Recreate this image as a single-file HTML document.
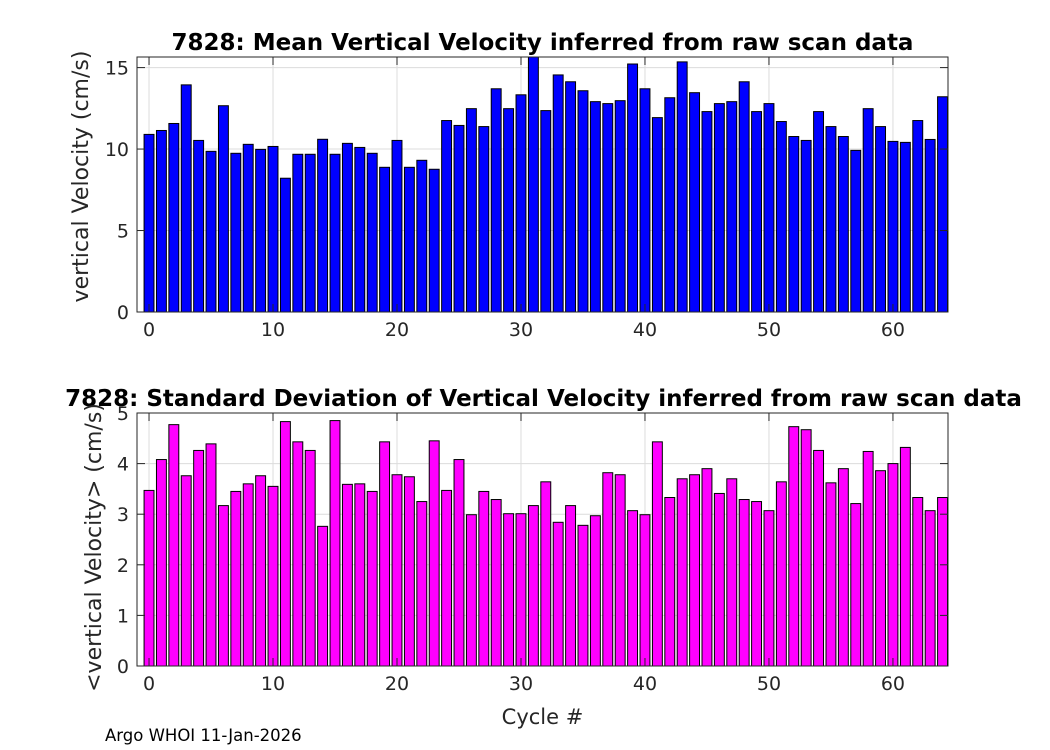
<!DOCTYPE html>
<html><head><meta charset="utf-8"><style>
body{margin:0;background:#fff;}
svg{display:block;font-family:"DejaVu Sans","Liberation Sans",sans-serif;}
</style></head><body>
<svg id="c" width="1050" height="750"></svg>
<script>
const cycles = Array.from({length:65},(_, i)=>i);
const meanVel = [10.9,11.14,11.57,13.94,10.53,9.86,12.66,9.74,10.29,9.98,10.16,8.21,9.68,9.68,10.6,9.68,10.35,10.1,9.74,8.88,10.53,8.88,9.31,8.76,11.75,11.45,12.48,11.38,13.7,12.48,13.33,15.65,12.36,14.55,14.13,13.58,12.91,12.79,12.97,15.22,13.7,11.93,13.15,15.35,13.46,12.3,12.79,12.91,14.13,12.3,12.79,11.69,10.77,10.53,12.3,11.38,10.77,9.92,12.48,11.38,10.47,10.41,11.75,10.59,13.21];
const stdVel = [3.47,4.08,4.77,3.76,4.26,4.39,3.17,3.45,3.6,3.76,3.55,4.83,4.43,4.26,2.76,4.85,3.59,3.6,3.45,4.43,3.78,3.74,3.25,4.45,3.47,4.08,2.99,3.45,3.29,3.01,3.01,3.17,3.64,2.84,3.17,2.78,2.97,3.82,3.78,3.07,2.99,4.43,3.33,3.7,3.78,3.9,3.41,3.7,3.29,3.25,3.07,3.64,4.73,4.67,4.26,3.62,3.9,3.21,4.24,3.86,4.0,4.32,3.33,3.07,3.33];
const xTicks = [0,10,20,30,40,50,60];
const yTicksTop = [0,5,10,15];
const yTicksBot = [0,1,2,3,4,5];

const NS="http://www.w3.org/2000/svg";
const svg=document.getElementById('c');
function mk(tag,attrs,parent){const e=document.createElementNS(NS,tag);for(const k in attrs)e.setAttribute(k,attrs[k]);(parent||svg).appendChild(e);return e;}

function panel(name,box,ymax,vals,yticks,color,title,ylabel,ylx,xlabel){
  const g=mk('g',{});
  
  
  const xmin=-0.97,xmax=64.44;
  const X=v=>box.l+(v-xmin)/(xmax-xmin)*(box.r-box.l);
  const Y=v=>box.b-v/ymax*(box.b-box.t);
  xTicks.forEach(t=>{mk('line',{x1:X(t),x2:X(t),y1:box.t,y2:box.b,stroke:'#dcdcdc','stroke-width':1},g);});
  yticks.forEach(t=>{mk('line',{x1:box.l,x2:box.r,y1:Y(t),y2:Y(t),stroke:'#dcdcdc','stroke-width':1},g);});
  vals.forEach((v,i)=>{
    const x0=X(cycles[i]-0.4),x1=X(cycles[i]+0.4);
    const r=mk('rect',{x:x0,y:Y(v),width:x1-x0,height:Y(0)-Y(v),fill:color,stroke:'#000','stroke-width':1},g);
    
    
  });
  mk('rect',{x:box.l,y:box.t,width:box.r-box.l,height:box.b-box.t,fill:'none',stroke:'#262626','stroke-width':1},g);
  xTicks.forEach(t=>{
    mk('line',{x1:X(t),x2:X(t),y1:box.b,y2:box.b-8,stroke:'#262626'},g);
    mk('line',{x1:X(t),x2:X(t),y1:box.t,y2:box.t+8,stroke:'#262626'},g);
    const tx=mk('text',{x:X(t),y:box.b+24,'text-anchor':'middle','font-size':19,fill:'#262626'},g);tx.textContent=t;
    
    
  });
  yticks.forEach(t=>{
    mk('line',{x1:box.l,x2:box.l+8,y1:Y(t),y2:Y(t),stroke:'#262626'},g);
    mk('line',{x1:box.r,x2:box.r-8,y1:Y(t),y2:Y(t),stroke:'#262626'},g);
    const ty=mk('text',{x:box.l-8,y:Y(t)+7,'text-anchor':'end','font-size':19,fill:'#262626'},g);ty.textContent=t;
    
    
  });
  const tt=mk('text',{x:(box.l+box.r)/2+(name==='std-velocity-chart'?1:0),y:box.t-7,'text-anchor':'middle','font-size':23,'font-weight':'bold',fill:'#000'},g);tt.textContent=title;
  
  
  const cy=(box.t+box.b)/2;
  const yl=mk('text',{x:0,y:0,transform:`translate(${ylx},${cy+(name==='std-velocity-chart'?8:-8)}) rotate(-90)`,'text-anchor':'middle','font-size':22,fill:'#262626'},g);yl.textContent=ylabel;
  
  
  if(xlabel){const xl=mk('text',{x:(box.l+box.r)/2,y:box.b+58,'text-anchor':'middle','font-size':21,fill:'#262626'},g);xl.textContent=xlabel;
    
    }
}
panel('mean-velocity-chart',{l:137,r:948,t:57,b:312},15.65,meanVel,yTicksTop,'#0000ff','7828: Mean Vertical Velocity inferred from raw scan data','vertical Velocity (cm/s)',88);
panel('std-velocity-chart',{l:137,r:948,t:413,b:666},5,stdVel,yTicksBot,'#ff00ff','7828: Standard Deviation of Vertical Velocity inferred from raw scan data','<vertical Velocity> (cm/s)',101,'Cycle #');
const ft=mk('text',{x:105,y:741,'font-size':16.5,fill:'#000'});ft.textContent='Argo WHOI 11-Jan-2026';


</script>
</body></html>
